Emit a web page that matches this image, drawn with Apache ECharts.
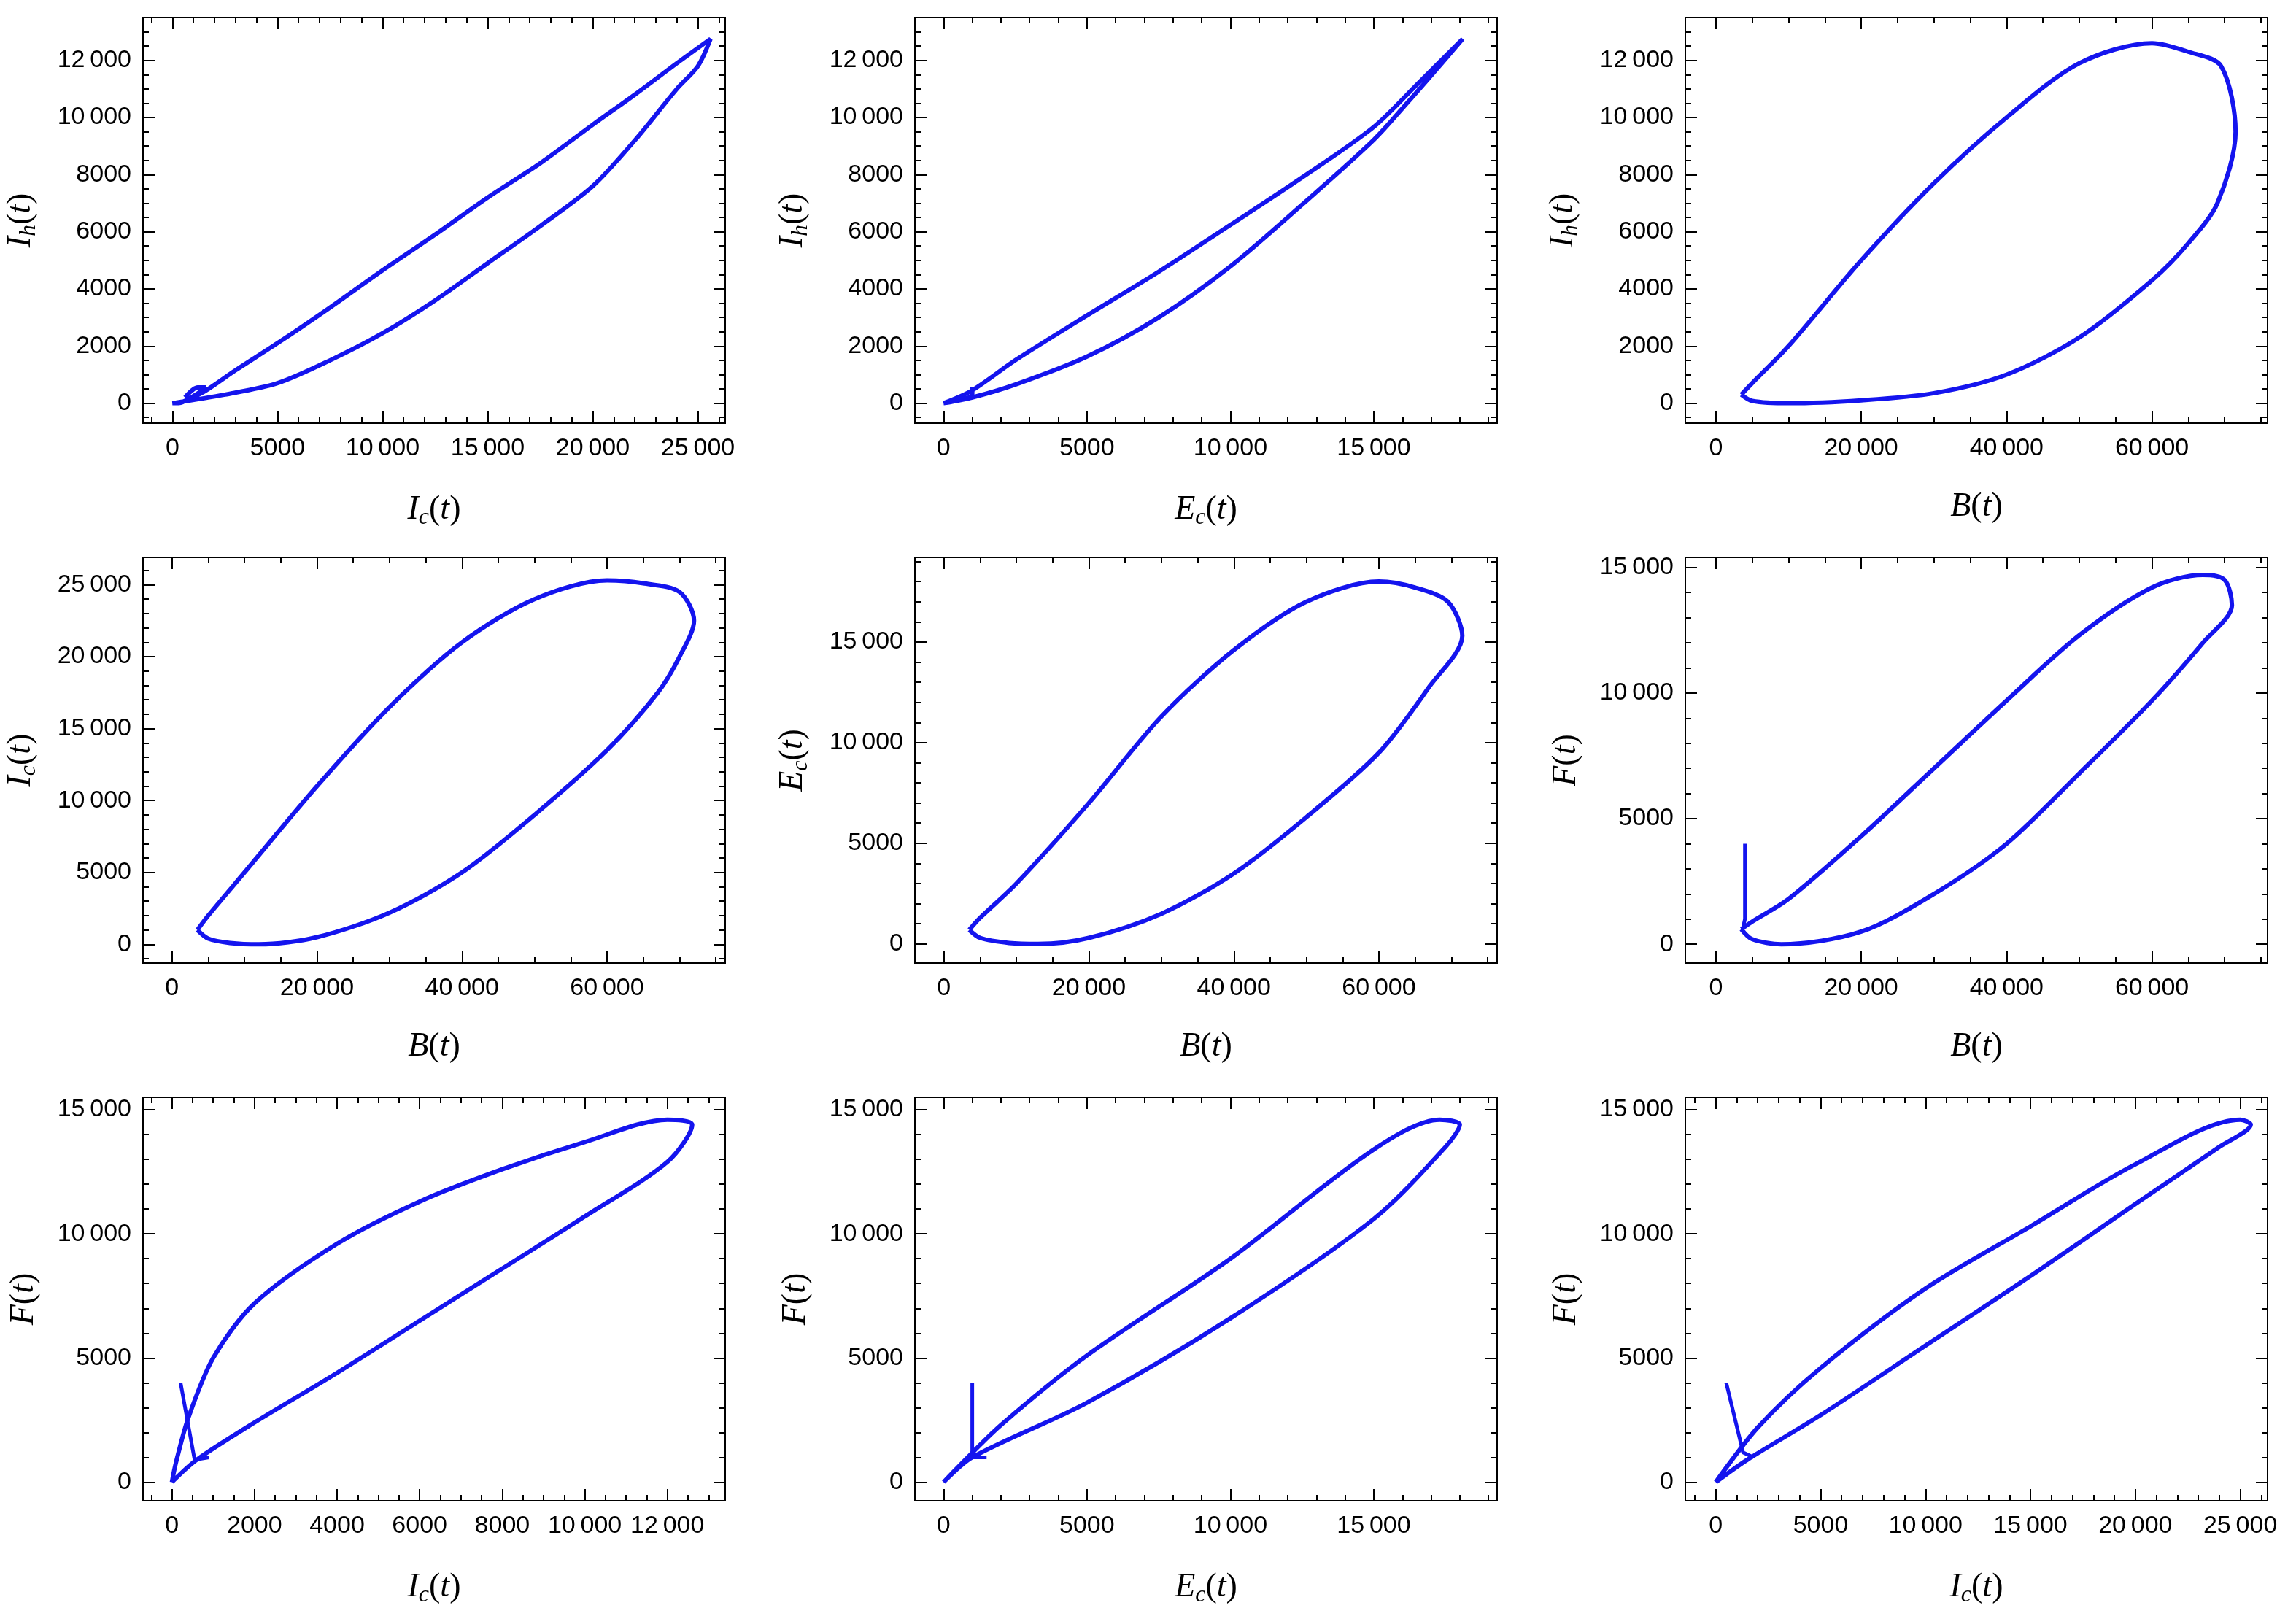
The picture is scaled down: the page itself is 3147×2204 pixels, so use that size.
<!DOCTYPE html>
<html>
<head>
<meta charset="utf-8">
<script src="https://cdn.jsdelivr.net/npm/echarts@6/dist/echarts.min.js"></script>
<style>html,body{margin:0;background:#fff}#main{width:3147px;height:2204px}</style>
</head>
<body>
<div id="main"></div>
<script>
// phase portraits, [x, y] pairs
var icIh = [[600,200],[1200,550],[1600,550],[1000,250],[300,0],[0,0],[2500,300],[5000,700],[7500,1500],[10000,2450],[12500,3600],[15000,4900],[17500,6200],[20000,7600],[22000,9200],[24000,11000],[25000,11800],[25600,12750],[24000,11900],[22000,10800],[20000,9750],[17500,8400],[15000,7200],[12500,5900],[10000,4650],[7500,3350],[5000,2100],[3000,1150],[1500,400],[500,50],[0,0]];
var ecIh = [[1000,550],[1000,300],[300,50],[0,0],[1000,200],[2500,650],[5000,1630],[7500,3000],[10000,4790],[12500,6950],[15000,9220],[16200,10550],[17200,11700],[18100,12750],[16500,11150],[15000,9670],[12500,7900],[10000,6240],[7500,4600],[5000,3070],[2500,1500],[1000,450],[0,0]];
var bIh = [[3500,300],[5000,80],[10000,0],[20000,100],[30000,350],[40000,1000],[50000,2300],[60000,4300],[65000,5600],[69000,7000],[71500,9500],[69500,11800],[65000,12300],[60000,12600],[50000,11900],[40000,10000],[30000,7700],[20000,5000],[10000,2000],[5000,700],[3500,300]];
var bIc = [[3500,1000],[5000,400],[8000,100],[12000,0],[20000,500],[30000,2200],[40000,5000],[50000,9000],[60000,13500],[67000,17500],[70000,20000],[72000,22500],[70000,24500],[65000,25100],[60000,25300],[50000,24000],[40000,21000],[30000,16500],[20000,11000],[10000,5000],[5000,2000],[3500,1000]];
var bEc = [[3500,700],[5000,300],[9000,50],[13000,0],[20000,300],[30000,1500],[40000,3500],[50000,6300],[60000,9500],[67000,12800],[71500,15300],[69500,17000],[65000,17700],[60000,18000],[50000,17000],[40000,14600],[30000,11300],[20000,7000],[10000,3000],[5000,1300],[3500,700]];
var bF = [[3500,600],[5000,200],[9000,0],[20000,500],[30000,2000],[40000,4000],[50000,6800],[60000,9700],[67000,12000],[71000,13500],[70000,14500],[67000,14700],[60000,14200],[50000,12300],[40000,9700],[30000,7000],[20000,4300],[10000,1800],[5000,900],[3500,600]];
var bFStart = [[4000,4000],[4000,1000],[3700,600]];
var icF = [[0,0],[600,900],[2000,2400],[4000,4400],[6000,6500],[8000,8600],[10000,10700],[12000,12900],[12600,14400],[12000,14600],[10000,13700],[8000,12600],[6000,11300],[4000,9600],[2000,7200],[1000,5000],[400,2600],[100,800],[0,0]];
var icFStart = [[210,4000],[550,900],[900,1000]];
var ecF = [[0,0],[1000,1000],[5000,3200],[10000,6600],[15000,10600],[17500,13500],[18000,14400],[17300,14600],[15000,13400],[10000,9000],[5000,5100],[2000,2300],[500,600],[0,0]];
var ecFStart = [[1000,4000],[1000,1000],[1500,1000]];
var icF2 = [[0,0],[1500,900],[5000,2700],[10000,5500],[15000,8300],[20000,11200],[24000,13500],[25500,14400],[25000,14600],[20000,12800],[15000,10300],[10000,7800],[5000,4600],[2000,2200],[0,0]];
var icF2Start = [[500,4000],[1300,1200],[1800,1000]];

var colLeft = [196, 1254, 2310], rowTop = [24, 764, 1504], W = 798, H = 556;
var blue = '#1414ee';

var panels = [
  {data: icIh, x: [-1400, 26300, 5000, 1000], y: [-700, 13500, 2000, 500], xn: ['I', 'c'], yn: ['I', 'h']},
  {data: ecIh, x: [-1000, 19300, 5000, 1000], y: [-700, 13500, 2000, 500], xn: ['E', 'c'], yn: ['I', 'h']},
  {data: bIh, x: [-4200, 75900, 20000, 5000], y: [-700, 13500, 2000, 500], xn: ['B', ''], yn: ['I', 'h']},
  {data: bIc, x: [-4000, 76300, 20000, 5000], y: [-1300, 26900, 5000, 1000], xn: ['B', ''], yn: ['I', 'c']},
  {data: bEc, x: [-4000, 76300, 20000, 5000], y: [-950, 19200, 5000, 1000], xn: ['B', ''], yn: ['E', 'c']},
  {data: bF, start: bFStart, x: [-4200, 75900, 20000, 5000], y: [-750, 15400, 5000, 1000], xn: ['B', ''], yn: ['F', '']},
  {data: icF, start: icFStart, x: [-700, 13400, 2000, 500], y: [-750, 15500, 5000, 1000], xn: ['I', 'c'], yn: ['F', '']},
  {data: ecF, start: ecFStart, x: [-1000, 19300, 5000, 1000], y: [-750, 15500, 5000, 1000], xn: ['E', 'c'], yn: ['F', '']},
  {data: icF2, start: icF2Start, x: [-1450, 26300, 5000, 1000], y: [-750, 15500, 5000, 1000], xn: ['I', 'c'], yn: ['F', '']}
];

function ticks(min, max, step) {
  var a = [];
  for (var v = Math.ceil(min / step) * step; v <= max; v += step) a.push(v);
  return a;
}
function fmt(v) {
  var s = String(v);
  return Math.abs(v) >= 10000 ? s.slice(0, -3) + '\u2009' + s.slice(-3) : s;
}
function nm(p) {
  return '{i|' + p[0] + '}' + (p[1] ? '{s|' + p[1] + '}' : '') + '{n|(}{i|t}{n|)}';
}
var rich = {
  i: {fontFamily: 'Liberation Serif', fontStyle: 'italic', fontSize: 46, color: '#000'},
  s: {fontFamily: 'Liberation Serif', fontStyle: 'italic', fontSize: 32, color: '#000', padding: [22, 0, 0, 0]},
  n: {fontFamily: 'Liberation Serif', fontSize: 46, color: '#000'}
};
var frame = {show: true, onZero: false, lineStyle: {color: '#000', width: 2}};

var grid = [], xAxis = [], yAxis = [], series = [];
panels.forEach(function (p, k) {
  grid.push({left: colLeft[k % 3], top: rowTop[Math.floor(k / 3)], width: W, height: H});
  var xs = [['bottom', 16, ticks(p.x[0], p.x[1], p.x[2]), true], ['top', 16, ticks(p.x[0], p.x[1], p.x[2]), false],
            ['bottom', 8, ticks(p.x[0], p.x[1], p.x[3]), false], ['top', 8, ticks(p.x[0], p.x[1], p.x[3]), false]];
  var ys = [['left', 16, ticks(p.y[0], p.y[1], p.y[2]), true], ['right', 16, ticks(p.y[0], p.y[1], p.y[2]), false],
            ['left', 8, ticks(p.y[0], p.y[1], p.y[3]), false], ['right', 8, ticks(p.y[0], p.y[1], p.y[3]), false]];
  xs.forEach(function (a) {
    xAxis.push({
      gridIndex: k, type: 'value', min: p.x[0], max: p.x[1], position: a[0],
      axisLine: frame, splitLine: {show: false},
      axisTick: {inside: true, length: a[1], customValues: a[2], lineStyle: {color: '#000', width: 2}},
      axisLabel: {show: a[3], customValues: a[2], formatter: fmt, fontFamily: 'Liberation Sans', fontSize: 34, color: '#000', margin: 18},
      name: a[3] ? nm(p.xn) : '', nameLocation: 'middle', nameGap: 92, nameTextStyle: {rich: rich}
    });
  });
  ys.forEach(function (a) {
    yAxis.push({
      gridIndex: k, type: 'value', min: p.y[0], max: p.y[1], position: a[0],
      axisLine: frame, splitLine: {show: false},
      axisTick: {inside: true, length: a[1], customValues: a[2], lineStyle: {color: '#000', width: 2}},
      axisLabel: {show: a[3], customValues: a[2], formatter: fmt, fontFamily: 'Liberation Sans', fontSize: 34, color: '#000', margin: 16},
      name: a[3] ? nm(p.yn) : '', nameLocation: 'middle', nameGap: 140, nameRotate: 90, nameTextStyle: {rich: rich}
    });
  });
  series.push({type: 'line', xAxisIndex: k * 4, yAxisIndex: k * 4, data: p.data, smooth: 0.3, showSymbol: false,
    lineStyle: {color: blue, width: 6}, silent: true, animation: false});
  if (p.start) series.push({type: 'line', xAxisIndex: k * 4, yAxisIndex: k * 4, data: p.start, showSymbol: false,
    lineStyle: {color: blue, width: 5}, silent: true, animation: false});
});

var chart = echarts.init(document.getElementById('main'));
chart.setOption({backgroundColor: '#fff', animation: false, grid: grid, xAxis: xAxis, yAxis: yAxis, series: series});
</script>
</body>
</html>
